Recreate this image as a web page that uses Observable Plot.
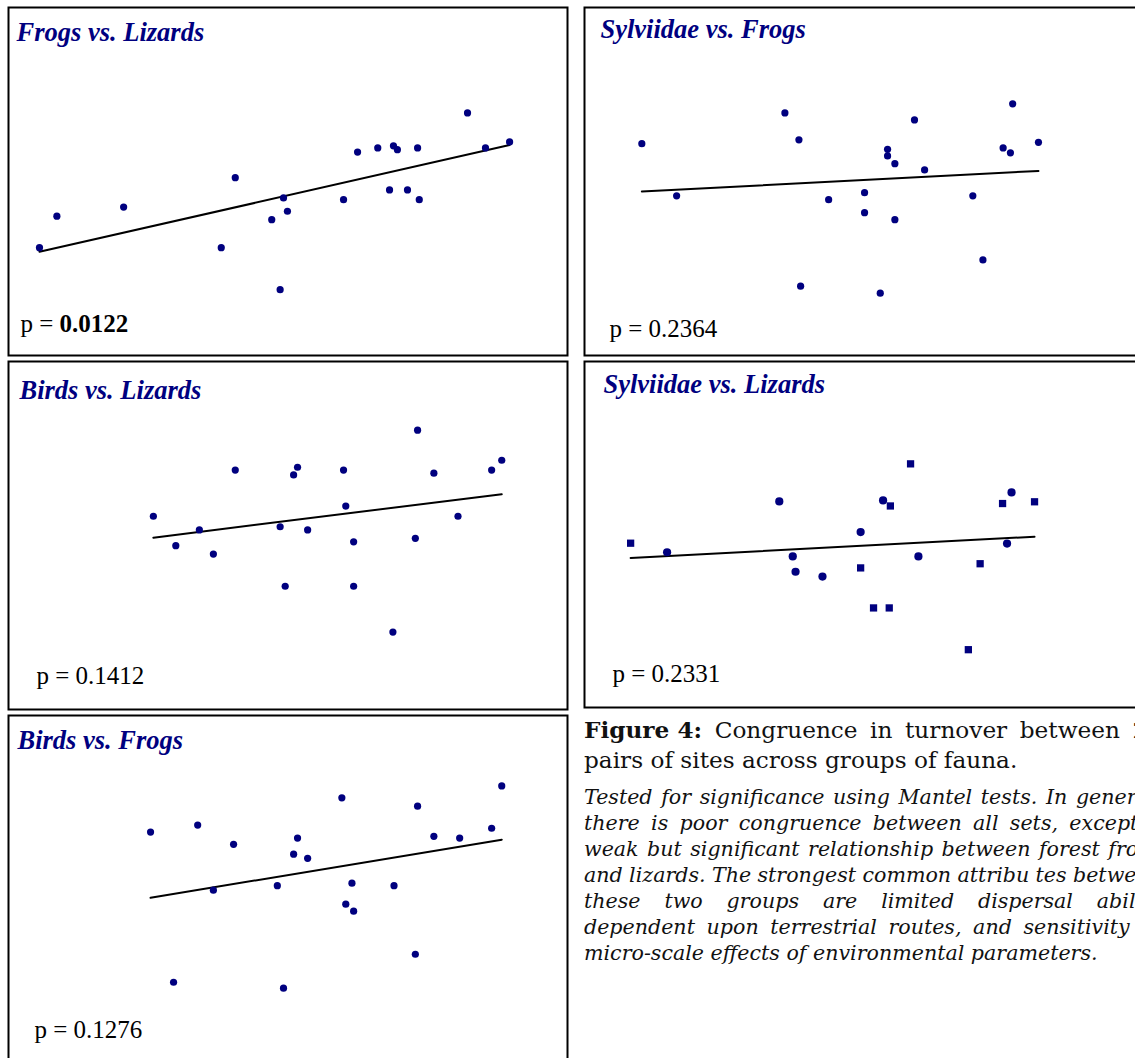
<!DOCTYPE html>
<html>
<head>
<meta charset="utf-8">
<script src="https://cdn.jsdelivr.net/npm/d3@7"></script>
<script src="https://cdn.jsdelivr.net/npm/@observablehq/plot@0.6"></script>
<style>
  html, body { margin: 0; padding: 0; background: #fff; overflow: hidden; }
  body { position: relative; width: 1135px; height: 1058px; }
  .panel { position: absolute; width: 561px; }
  .panel svg { display: block; max-width: none !important; }
  #caption { position: absolute; left: 584px; top: 715px; width: 578px; font-family: "DejaVu Serif", serif; color: #111; }
  #caption .lead { font-size: 23.2px; line-height: 30px; }
  #caption .note { font-size: 20.6px; line-height: 26px; font-style: italic; margin-top: 9px; }
  #caption .row { white-space: nowrap; }
  #caption .justify { display: flex; justify-content: space-between; }
  #caption .head { font-weight: bold; }
</style>
</head>
<body>
<div id="caption"></div>
<script>
// Pairwise turnover between the 21 pairs of sites, one point per pair (0–1 scaled).
const pairNames = ["Frogs vs. Lizards", "Sylviidae vs. Frogs", "Birds vs. Lizards", "Sylviidae vs. Lizards", "Birds vs. Frogs"];
const pValues = [0.0122, 0.2364, 0.1412, 0.2331, 0.1276];

const frogsLizardsX = [0.057, 0.088, 0.207, 0.406, 0.381, 0.471, 0.492, 0.499, 0.486, 0.599, 0.624, 0.660, 0.688, 0.695, 0.731, 0.681, 0.713, 0.734, 0.820, 0.852, 0.895];
const frogsLizardsY = [0.311, 0.401, 0.427, 0.511, 0.311, 0.391, 0.453, 0.415, 0.191, 0.448, 0.584, 0.596, 0.602, 0.591, 0.596, 0.476, 0.476, 0.448, 0.696, 0.596, 0.613];

const sylviidaeFrogsX = [0.104, 0.166, 0.359, 0.384, 0.387, 0.437, 0.501, 0.501, 0.529, 0.542, 0.542, 0.555, 0.555, 0.590, 0.608, 0.694, 0.712, 0.748, 0.761, 0.765, 0.811];
const sylviidaeFrogsY = [0.608, 0.459, 0.696, 0.619, 0.201, 0.448, 0.468, 0.411, 0.181, 0.592, 0.573, 0.551, 0.391, 0.676, 0.533, 0.459, 0.276, 0.596, 0.582, 0.722, 0.612];

const birdsLizardsX = [0.260, 0.300, 0.342, 0.367, 0.406, 0.486, 0.495, 0.510, 0.517, 0.535, 0.599, 0.603, 0.617, 0.617, 0.687, 0.727, 0.731, 0.760, 0.803, 0.863, 0.881];
const birdsLizardsY = [0.555, 0.471, 0.516, 0.447, 0.687, 0.525, 0.355, 0.673, 0.695, 0.516, 0.687, 0.584, 0.482, 0.355, 0.224, 0.492, 0.801, 0.678, 0.555, 0.687, 0.715];

const sylviidaeLizardsX = [0.084, 0.149, 0.349, 0.373, 0.378, 0.426, 0.494, 0.494, 0.517, 0.545, 0.534, 0.547, 0.583, 0.597, 0.686, 0.707, 0.747, 0.763, 0.755, 0.804];
const sylviidaeLizardsY = [0.475, 0.449, 0.595, 0.437, 0.393, 0.379, 0.507, 0.404, 0.289, 0.289, 0.598, 0.582, 0.703, 0.437, 0.169, 0.416, 0.589, 0.621, 0.474, 0.594];
const sylviidaeLizardsMarker = ["square", "circle", "circle", "circle", "circle", "circle", "circle", "square", "square", "square", "circle", "square", "square", "circle", "square", "square", "square", "circle", "circle", "square"];

const birdsFrogsX = [0.255, 0.296, 0.339, 0.367, 0.403, 0.481, 0.492, 0.510, 0.517, 0.535, 0.596, 0.603, 0.614, 0.617, 0.689, 0.727, 0.731, 0.760, 0.806, 0.863, 0.881];
const birdsFrogsY = [0.664, 0.235, 0.684, 0.498, 0.629, 0.511, 0.218, 0.601, 0.647, 0.589, 0.762, 0.458, 0.518, 0.438, 0.511, 0.315, 0.738, 0.652, 0.647, 0.675, 0.796];

const captionLabel = "Figure 4:";
const captionLeadLines = ["Congruence in turnover between 21", "pairs of sites across groups of fauna."];
const captionNoteLines = [
  "Tested for significance using Mantel tests. In general,",
  "there is poor congruence between all sets, except a",
  "weak but significant relationship between forest frogs",
  "and lizards. The strongest common attribu tes between",
  "these two groups are limited dispersal ability",
  "dependent upon terrestrial routes, and sensitivity to",
  "micro-scale effects of environmental parameters."
];

// Panel placement on the page
const PANEL_W = 561;
const panels = [
  {i: 0, xs: frogsLizardsX, ys: frogsLizardsY, left: 7, top: 6, height: 350, r: 3.6, titleDx: 9, titleY: 34, pDx: 13, pY: 325},
  {i: 1, xs: sylviidaeFrogsX, ys: sylviidaeFrogsY, left: 583, top: 6, height: 350, r: 3.6, titleDx: 17, titleY: 31, pDx: 26, pY: 330},
  {i: 2, xs: birdsLizardsX, ys: birdsLizardsY, left: 7, top: 360, height: 350, r: 3.6, titleDx: 12, titleY: 38, pDx: 29, pY: 323},
  {i: 3, xs: sylviidaeLizardsX, ys: sylviidaeLizardsY, markers: sylviidaeLizardsMarker, left: 583, top: 360, height: 348, r: 4.1, titleDx: 20, titleY: 32, pDx: 29, pY: 321},
  {i: 4, xs: birdsFrogsX, ys: birdsFrogsY, left: 7, top: 714, height: 350, r: 3.6, titleDx: 10, titleY: 34, pDx: 27, pY: 323}
];

const NAVY = "#000080";
const serif = "Liberation Serif";

function drawPanel(cfg) {
  const rows = cfg.xs.map((x, k) => ({x, y: cfg.ys[k], marker: cfg.markers ? cfg.markers[k] : "circle"}));
  const p = pValues[cfg.i];
  const pText = {frameAnchor: "top-left", textAnchor: "start", lineAnchor: "bottom", dy: cfg.pY,
                 fill: "#000", fontFamily: serif, fontSize: 25};
  const svg = Plot.plot({
    width: PANEL_W,
    height: cfg.height,
    margin: 0,
    x: {domain: [0, 1], axis: null},
    y: {domain: [0, 1], axis: null},
    symbol: {domain: ["circle", "square"], range: ["circle", "square"]},
    style: {background: "#fff", overflow: "visible"},
    marks: [
      Plot.linearRegressionY(rows, {x: "x", y: "y", stroke: "#000", strokeWidth: 2, ci: 0}),
      Plot.dot(rows, {x: "x", y: "y", symbol: "marker", r: cfg.r, fill: "#00007f", stroke: "none"}),
      Plot.text([pairNames[cfg.i]], {text: d => d, frameAnchor: "top-left", textAnchor: "start", lineAnchor: "bottom",
        dx: cfg.titleDx, dy: cfg.titleY, fill: NAVY, fontFamily: serif, fontSize: 26.5, fontWeight: "bold", fontStyle: "italic"}),
      Plot.text(["p ="], {...pText, text: d => d, dx: cfg.pDx}),
      // significant results are set in bold
      Plot.text([p.toFixed(4)], {...pText, text: d => d, dx: cfg.pDx + 39, fontWeight: p < 0.05 ? "bold" : "normal"}),
      Plot.frame({stroke: "#000", strokeWidth: 2, inset: 1})
    ]
  });
  const div = document.createElement("div");
  div.className = "panel";
  div.style.left = cfg.left + "px";
  div.style.top = cfg.top + "px";
  div.appendChild(svg);
  document.body.appendChild(div);
}

panels.forEach(drawPanel);

// Caption: justified lines, the last line of each paragraph left-aligned
function addLine(parent, text, justify, head) {
  const row = document.createElement("div");
  row.className = "row" + (justify ? " justify" : "");
  if (justify) {
    if (head) {
      const h = document.createElement("span");
      h.className = "head";
      h.textContent = head;
      row.appendChild(h);
    }
    text.split(" ").forEach(w => {
      const s = document.createElement("span");
      s.textContent = w;
      row.appendChild(s);
    });
  } else {
    row.textContent = text;
  }
  parent.appendChild(row);
}

const cap = document.getElementById("caption");
const lead = document.createElement("div");
lead.className = "lead";
captionLeadLines.forEach((t, k) => addLine(lead, t, k < captionLeadLines.length - 1, k === 0 ? captionLabel : null));
cap.appendChild(lead);
const note = document.createElement("div");
note.className = "note";
captionNoteLines.forEach((t, k) => addLine(note, t, k < captionNoteLines.length - 1, null));
cap.appendChild(note);
</script>
</body>
</html>
